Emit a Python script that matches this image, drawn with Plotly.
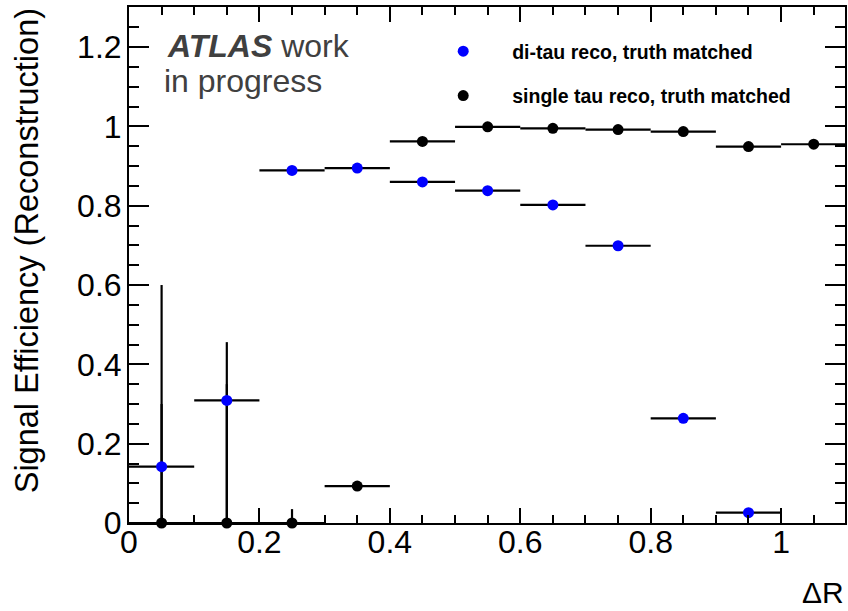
import plotly.graph_objects as go

# ---- data ----
bin_centers = [0.05, 0.15, 0.25, 0.35, 0.45, 0.55, 0.65, 0.75, 0.85, 0.95, 1.05]
bin_half_width = [0.05] * 11

ditau_eff = [0.142, 0.309, 0.889, 0.895, 0.860, 0.838, 0.802, 0.699, 0.264, 0.026, None]
ditau_err_up = [0.458, 0.147, 0.005, 0.005, 0.005, 0.005, 0.006, 0.008, 0.010, 0.006, None]
ditau_err_down = [0.142, 0.309, 0.005, 0.005, 0.005, 0.005, 0.006, 0.008, 0.010, 0.006, None]

single_eff = [0.0, 0.0, 0.0, 0.093, 0.962, 0.999, 0.995, 0.992, 0.987, 0.949, 0.955]
single_err_up = [0.30, 0.35, 0.035, 0.010, 0.004, 0.002, 0.003, 0.003, 0.003, 0.004, 0.004]
single_err_down = [0.0, 0.0, 0.0, 0.010, 0.004, 0.002, 0.003, 0.003, 0.003, 0.004, 0.004]

series_names = ["di-tau reco, truth matched", "single tau reco, truth matched"]

x_tickvals = [0, 0.2, 0.4, 0.6, 0.8, 1.0]
x_ticktext = ["0", "0.2", "0.4", "0.6", "0.8", "1"]
y_tickvals = [0, 0.2, 0.4, 0.6, 0.8, 1.0, 1.2]
y_ticktext = ["0", "0.2", "0.4", "0.6", "0.8", "1", "1.2"]

FONT = "Liberation Sans, Arial, Helvetica, sans-serif"

fig = go.Figure()

fig.add_trace(go.Scatter(
    x=bin_centers, y=single_eff, mode="markers", name=series_names[1],
    marker=dict(color="black", size=11),
    error_x=dict(type="data", array=bin_half_width, color="black", thickness=2.2, width=0),
    error_y=dict(type="data", symmetric=False, array=single_err_up, arrayminus=single_err_down,
                 color="black", thickness=2.2, width=0),
    cliponaxis=False, legendgroup="b", legendrank=2,
))
fig.add_trace(go.Scatter(
    x=bin_centers, y=ditau_eff, mode="markers", name=series_names[0],
    marker=dict(color="#0000ff", size=11),
    error_x=dict(type="data", array=bin_half_width, color="black", thickness=2.2, width=0),
    error_y=dict(type="data", symmetric=False, array=ditau_err_up, arrayminus=ditau_err_down,
                 color="black", thickness=2.2, width=0),
    cliponaxis=False, legendgroup="a", legendrank=1,
))

L, R, T, B = 129, 1, 7, 88
W, H = 848, 611
pw, ph = W - L - R, H - T - B

def px(xp):
    return (xp - L) / pw

def py(yp):
    return (H - B - yp) / ph

fig.update_layout(
    width=W, height=H,
    margin=dict(l=L, r=R, t=T, b=B),
    paper_bgcolor="white", plot_bgcolor="white",
    font=dict(family=FONT, size=30, color="black"),
    showlegend=True,
    legend=dict(
        x=px(415), y=py(32), xanchor="left", yanchor="top",
        font=dict(family=FONT, size=19.5, color="black", weight="bold"),
        bgcolor="rgba(0,0,0,0)", borderwidth=0,
        itemwidth=88, tracegroupgap=16, traceorder="grouped",
    ),
    xaxis=dict(
        range=[0, 1.098], showgrid=False, zeroline=False,
        showline=True, linecolor="black", linewidth=2, mirror="ticks",
        ticks="inside", ticklen=15, tickwidth=1.5, tickcolor="black",
        tickvals=x_tickvals, ticktext=x_ticktext,
        minor=dict(ticks="inside", ticklen=8, dtick=0.05, tick0=0, tickcolor="black", tickwidth=1.5),
        tickfont=dict(size=32, family=FONT),
        ticklabelstandoff=-10,
    ),
    yaxis=dict(
        range=[0, 1.301], showgrid=False, zeroline=False,
        showline=True, linecolor="black", linewidth=2, mirror="ticks",
        ticks="inside", ticklen=20, tickwidth=1.5, tickcolor="black",
        tickvals=y_tickvals, ticktext=y_ticktext,
        minor=dict(ticks="inside", ticklen=10, dtick=0.05, tick0=0, tickcolor="black", tickwidth=1.5),
        tickfont=dict(size=32, family=FONT),
        ticklabelstandoff=-1,
    ),
    annotations=[
        dict(text="<b><i>ATLAS</i></b> work", x=px(165), y=py(46), xref="paper", yref="paper",
             xanchor="left", yanchor="middle", showarrow=False,
             font=dict(family=FONT, size=32, color="#404040")),
        dict(text="in progress", x=px(162), y=py(81), xref="paper", yref="paper",
             xanchor="left", yanchor="middle", showarrow=False,
             font=dict(family=FONT, size=32, color="#404040")),
        dict(text="Signal Efficiency (Reconstruction)", textangle=-90,
             x=px(27), y=py(251), xref="paper", yref="paper",
             xanchor="center", yanchor="middle", showarrow=False,
             font=dict(family=FONT, size=32.5, color="black")),
        dict(text="ΔR", x=px(848), y=py(611), xref="paper", yref="paper",
             xanchor="right", yanchor="bottom", showarrow=False,
             font=dict(family=FONT, size=30, color="black")),
    ],
)

fig.write_html("out.html")
